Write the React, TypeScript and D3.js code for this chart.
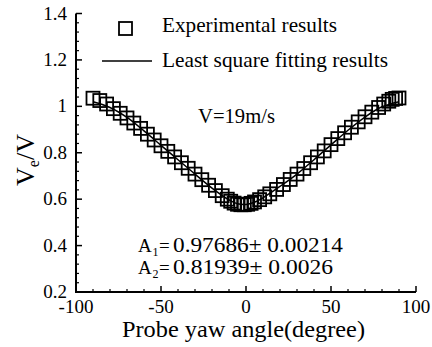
import React from "react";
import * as d3 from "d3";

const expAngle = [-90, -86, -82, -78, -74, -70, -66, -62, -58, -54, -50, -46, -42, -38, -34, -30, -26, -22, -18, -14, -11, -9, -7, -5, -3, -1, 1, 3, 5, 8, 11, 14, 18, 22, 26, 30, 34, 38, 42, 46, 50, 54, 58, 62, 66, 70, 74, 78, 81, 84, 86, 88, 90];
const expValue = [1.035, 1.025, 1.01, 0.99, 0.97, 0.95, 0.928, 0.905, 0.88, 0.855, 0.83, 0.806, 0.782, 0.757, 0.733, 0.708, 0.684, 0.66, 0.637, 0.615, 0.6, 0.591, 0.583, 0.578, 0.576, 0.576, 0.578, 0.582, 0.588, 0.598, 0.61, 0.623, 0.642, 0.663, 0.685, 0.708, 0.732, 0.757, 0.782, 0.808, 0.835, 0.861, 0.886, 0.91, 0.933, 0.955, 0.975, 0.995, 1.01, 1.022, 1.03, 1.034, 1.036];

const fitAngle = [-90, -80, -70, -60, -50, -40, -30, -20, -10, -5, 0, 5, 10, 20, 30, 40, 50, 60, 70, 80, 90];
const fitValue = [1.02, 0.995, 0.952, 0.894, 0.832, 0.77, 0.708, 0.648, 0.597, 0.58, 0.577, 0.587, 0.606, 0.655, 0.708, 0.77, 0.834, 0.897, 0.954, 0.998, 1.02];

const xTicks = [-100, -50, 0, 50, 100];
const xMinorTicks = [-90, -80, -70, -60, -40, -30, -20, -10, 10, 20, 30, 40, 60, 70, 80, 90];
const yTicks = [0.2, 0.4, 0.6, 0.8, 1.0, 1.2, 1.4];
const yTickLabels = ["0.2", "0.4", "0.6", "0.8", "1", "1.2", "1.4"];
const yMinorTicks = [0.24, 0.28, 0.32, 0.36, 0.44, 0.48, 0.52, 0.56, 0.64, 0.68, 0.72, 0.76, 0.84, 0.88, 0.92, 0.96, 1.04, 1.08, 1.12, 1.16, 1.24, 1.28, 1.32, 1.36];

const legendLabels = ["Experimental results", "Least square fitting results"];
const fitParams = ["0.97686± 0.00214", "0.81939± 0.0026"];

const FONT = "'Liberation Serif', 'Times New Roman', serif";

export default function App() {
  const W = 432, H = 347;
  const x = d3.scaleLinear().domain([-100, 100]).range([76, 416]);
  const y = d3.scaleLinear().domain([0.2, 1.4]).range([292, 13.5]);
  const line = d3
    .line<number>()
    .x((_, i) => x(fitAngle[i]))
    .y((d) => y(d))
    .curve(d3.curveCatmullRom);
  const sq = 13;
  return (
    <svg width={W} height={H} style={{ position: "absolute", left: 0, top: 0, background: "#fff" }} fontFamily={FONT}>
      <rect width={W} height={H} fill="#fff" />
      {/* axes */}
      <line x1={x(-100)} x2={x(-100)} y1={y(1.4)} y2={y(0.2)} stroke="#000" strokeWidth={2} />
      <line x1={x(-100) - 1} x2={x(100)} y1={y(0.2)} y2={y(0.2)} stroke="#000" strokeWidth={2} />
      {xTicks.map((t) => (
        <g key={"xt" + t}>
          <line x1={x(t)} x2={x(t)} y1={y(0.2)} y2={y(0.2) - 6} stroke="#000" strokeWidth={1.5} />
          <text x={x(t)} y={313} textAnchor="middle" fontSize={19}>
            {t}
          </text>
        </g>
      ))}
      {xMinorTicks.map((t) => (
        <line key={"xm" + t} x1={x(t)} x2={x(t)} y1={y(0.2)} y2={y(0.2) - 3} stroke="#000" strokeWidth={1.2} />
      ))}
      {yTicks.map((t, i) => (
        <g key={"yt" + t}>
          <line x1={x(-100)} x2={x(-100) + 6} y1={y(t)} y2={y(t)} stroke="#000" strokeWidth={1.5} />
          <text x={67} y={y(t) + 6} textAnchor="end" fontSize={19}>
            {yTickLabels[i]}
          </text>
        </g>
      ))}
      {yMinorTicks.map((t) => (
        <line key={"ym" + t} x1={x(-100)} x2={x(-100) + 3} y1={y(t)} y2={y(t)} stroke="#000" strokeWidth={1.2} />
      ))}
      {/* axis titles */}
      <text x={122} y={337} fontSize={24} textLength={243} lengthAdjust="spacingAndGlyphs">
        Probe yaw angle(degree)
      </text>
      <text transform="translate(34,160) rotate(-90)" textAnchor="middle" fontSize={26}>
        V<tspan fontSize={16} dy={5}>e</tspan>
        <tspan dy={-5}>/V</tspan>
      </text>
      {/* fit line */}
      <path d={line(fitValue) || ""} fill="none" stroke="#000" strokeWidth={1.5} />
      {/* experimental squares */}
      {expAngle.map((a, i) => (
        <rect
          key={"p" + i}
          x={x(a) - sq / 2}
          y={y(expValue[i]) - sq / 2}
          width={sq}
          height={sq}
          fill="none"
          stroke="#000"
          strokeWidth={1.8}
        />
      ))}
      {/* legend */}
      <rect x={119} y={22} width={sq} height={sq} fill="none" stroke="#000" strokeWidth={1.8} />
      <text x={162} y={32} fontSize={21} textLength={175} lengthAdjust="spacingAndGlyphs">
        {legendLabels[0]}
      </text>
      <line x1={102} x2={152} y1={61} y2={61} stroke="#000" strokeWidth={1.5} />
      <text x={162} y={67} fontSize={21} textLength={226} lengthAdjust="spacingAndGlyphs">
        {legendLabels[1]}
      </text>
      {/* annotations */}
      <text x={198} y={123} fontSize={21} textLength={77} lengthAdjust="spacingAndGlyphs">
        V=19m/s
      </text>
      {fitParams.map((p, i) => {
        const by = 252 + i * 22;
        return (
          <g key={"fp" + i}>
            <text x={138} y={by} fontSize={19}>A</text>
            <text x={152.5} y={by + 4} fontSize={12}>{i + 1}</text>
            <text x={159} y={by} fontSize={19}>=</text>
            <text x={173} y={by} fontSize={20} textLength={i === 0 ? 170 : 160} lengthAdjust="spacingAndGlyphs">
              {p}
            </text>
          </g>
        );
      })}
    </svg>
  );
}
